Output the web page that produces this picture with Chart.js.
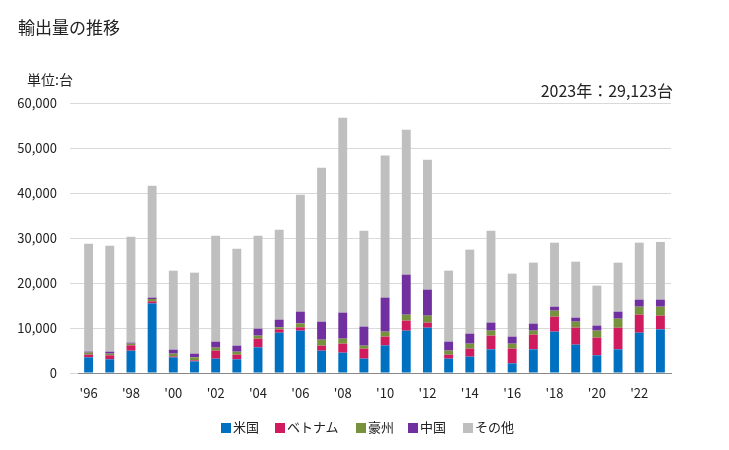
<!DOCTYPE html>
<html>
<head>
<meta charset="utf-8">
<script src="https://cdn.jsdelivr.net/npm/chart.js@4"></script>
<style>
  body { margin: 0; background: #fff; font-family: "Noto Sans CJK JP", sans-serif; }
  #wrap { position: relative; width: 729px; height: 450px; }
  .txt { position: absolute; color: #222; white-space: nowrap; }
  .lg { position: absolute; top: 417px; font-size: 13px; color: #222; white-space: nowrap; line-height: 20px; }
  .lg i { display: inline-block; width: 10px; height: 10px; margin-right: 2px; vertical-align: -1px; }
</style>
</head>
<body>
<div id="wrap">
  <canvas id="chartExport" width="729" height="450"></canvas>
  <div class="txt" style="left:18px; top:14px; font-size:17px;">輸出量の推移</div>
  <div class="txt" style="left:27px; top:69px; font-size:14px;">単位:台</div>
  <div class="txt" style="right:56px; top:78px; font-size:16px;">2023年：29,123台</div>
  <div id="legend"></div>
</div>
<script>
// 年ラベル
const years = ["'96","'97","'98","'99","'00","'01","'02","'03","'04","'05","'06","'07","'08","'09",
  "'10","'11","'12","'13","'14","'15","'16","'17","'18","'19","'20","'21","'22","'23"];

// 国別輸出量（台）
const usa = [3480, 3040, 4960, 15480, 3480, 2590, 3190, 3040, 5700, 8960, 9410, 4960, 4520, 3190,
  6150, 9410, 10070, 3190, 3630, 5260, 2150, 5260, 9190, 6300, 3930, 5260, 8960, 9700];
const vietnam = [600, 890, 1190, 450, 220, 220, 1770, 1030, 1930, 740, 740, 1110, 2000, 2220,
  1930, 2220, 1110, 890, 1780, 3040, 3260, 3260, 3330, 3780, 3930, 4810, 4000, 3040];
const australia = [450, 370, 370, 510, 600, 670, 670, 670, 670, 450, 890, 1330, 1110, 670,
  1110, 1330, 1560, 890, 1110, 1110, 1110, 890, 1330, 1330, 1560, 2000, 1780, 2000];
const china = [220, 440, 220, 300, 890, 820, 1330, 1330, 1550, 1700, 2590, 4000, 5780, 4220,
  7560, 8890, 5780, 2000, 2220, 1780, 1560, 1560, 890, 890, 1110, 1560, 1560, 1560];
const others = [24000, 23560, 23560, 24890, 17550, 18000, 23560, 21560, 20670, 20000, 26000, 34220, 43330, 21330,
  31560, 32220, 28890, 15780, 18670, 20440, 14000, 13560, 14220, 12440, 8890, 10890, 12660, 12823];

const font = { family: '"Noto Sans CJK JP", sans-serif', size: 13 };

const ctx = document.getElementById('chartExport');
const chart = new Chart(ctx, {
  type: 'bar',
  data: {
    labels: years,
    datasets: [
      { label: '米国', data: usa, backgroundColor: '#0070c0' },
      { label: 'ベトナム', data: vietnam, backgroundColor: '#d01c5f' },
      { label: '豪州', data: australia, backgroundColor: '#76923c' },
      { label: '中国', data: china, backgroundColor: '#7030a0' },
      { label: 'その他', data: others, backgroundColor: '#bfbfbf' }
    ]
  },
  options: {
    responsive: false,
    animation: false,
    layout: { padding: { top: 103, right: 58, left: 0, bottom: 47 } },
    datasets: { bar: { barPercentage: 0.42, categoryPercentage: 1 } },
    plugins: {
      legend: { display: false },
      tooltip: { enabled: false }
    },
    scales: {
      x: {
        stacked: true,
        afterFit: function (s) { s.height = 30; },
        grid: { display: false },
        border: { color: '#888' },
        ticks: {
          font: font, color: '#222', autoSkip: false, maxRotation: 0, padding: 4,
          callback: function (v, i) { return i % 2 === 0 ? years[i] : ''; }
        }
      },
      y: {
        stacked: true,
        min: 0, max: 60000,
        afterFit: function (s) { s.width = 78; },
        grid: { color: '#d9d9d9' },
        border: { display: false },
        ticks: {
          font: font, color: '#222', stepSize: 10000, padding: 13,
          callback: function (v) { return v.toLocaleString('en-US'); }
        }
      }
    }
  }
});

// 凡例（HTML）
const legendX = [221, 275, 356, 408, 463];
const legendEl = document.getElementById('legend');
chart.data.datasets.forEach(function (ds, i) {
  const item = document.createElement('div');
  item.className = 'lg';
  item.style.left = legendX[i] + 'px';
  item.innerHTML = '<i style="background:' + ds.backgroundColor + '"></i>' + ds.label;
  legendEl.appendChild(item);
});
</script>
</body>
</html>
